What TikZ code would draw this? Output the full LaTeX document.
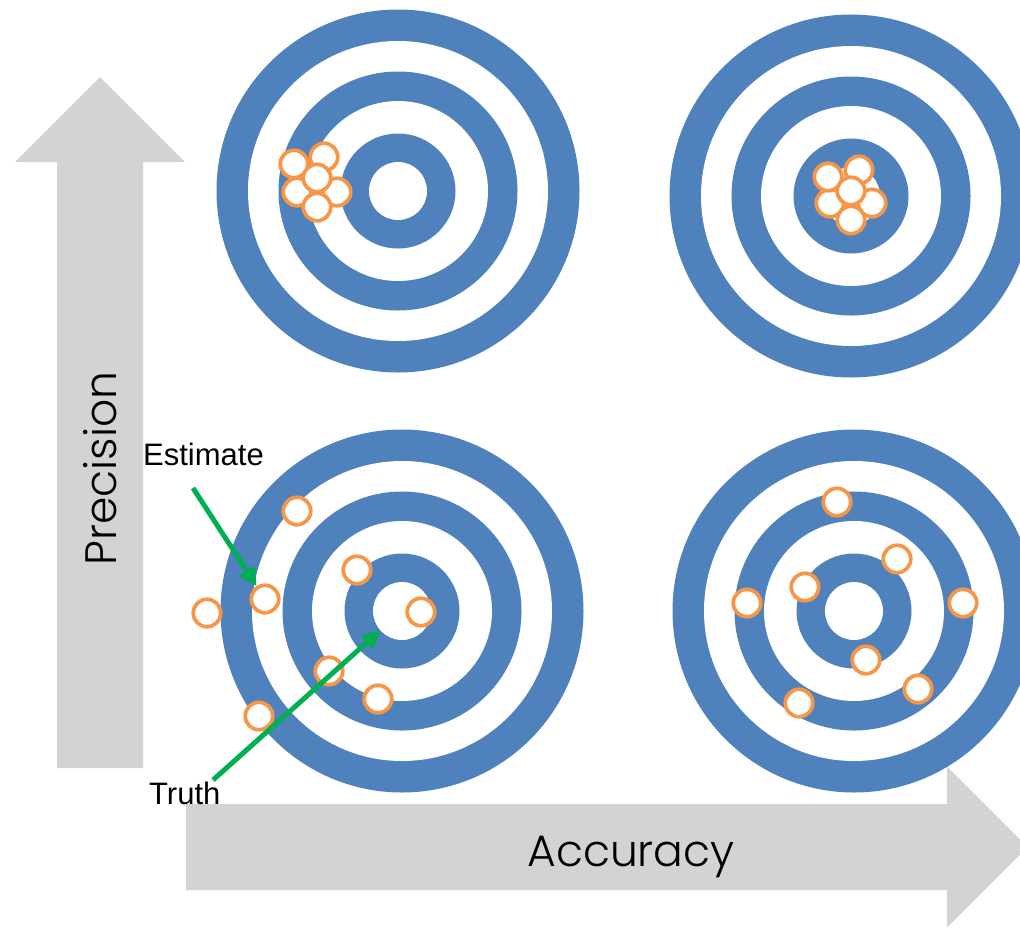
\documentclass[tikz,border=0pt]{standalone}
\usepackage{fontspec}
\setmainfont{Liberation Sans}
\IfFontExistsTF{Poppins Light}{\newfontfamily\axisfont{Poppins Light}}{\newfontfamily\axisfont{Poppins}}
\usetikzlibrary{arrows.meta}
\definecolor{ringblue}{RGB}{79,129,189}
\definecolor{shotorange}{RGB}{247,150,70}
\definecolor{hintgreen}{RGB}{0,176,80}
\definecolor{axisgray}{RGB}{211,211,211}

\begin{document}
\begin{tikzpicture}[x=1pt,y=-1pt,
  shot/.style={circle,draw=shotorange,fill=white,line width=3.7pt,minimum size=27.5pt,inner sep=0pt},
  bull/.style={circle,fill=white,minimum size=58pt,inner sep=0pt},
  hint/.style={hintgreen,line width=5pt,-{Triangle[length=18pt,width=18pt]}},
  axislabel/.style={font=\axisfont\fontsize{44}{46}\selectfont,inner sep=0pt},
  smalllabel/.style={font=\fontsize{31}{33}\selectfont,inner sep=0pt,anchor=base west}]

\clip (0,0) rectangle (1020,930);

\fill[axisgray] (57,768) -- (57,162) -- (15,162) -- (100,77) -- (185,162) -- (143,162) -- (143,768) -- cycle;
\fill[axisgray] (186,804) -- (947,804) -- (947,766.5) -- (1027.5,847) -- (947,927.5) -- (947,890) -- (186,890) -- cycle;

\node[axislabel,rotate=90,anchor=base] (prec-label) at (116,468.5) {Precision};
\node[axislabel,anchor=base] (acc-label) at (631,866) {Accuracy};

\foreach \cx/\cy/\nm in {398/191/tl,851/196/tr,402/611/bl,854/611/br}{
  \fill[ringblue] (\cx,\cy) circle (181.5pt);
  \fill[white] (\cx,\cy) circle (150pt);
  \fill[ringblue] (\cx,\cy) circle (119.5pt);
  \fill[white] (\cx,\cy) circle (90pt);
  \fill[ringblue] (\cx,\cy) circle (57.5pt);
  \node[bull] (\nm-bull) at (\cx,\cy) {};
}

\foreach \x/\y [count=\i] in {297/192,337/192,294/164,324/157,317/178,317/207}
  \node[shot] (tl\i) at (\x,\y) {};
\foreach \x/\y [count=\i] in {830/203,872/203,828/177,859/170,851/191,851/220}
  \node[shot] (tr\i) at (\x,\y) {};
\foreach \x/\y [count=\i] in {297/511,357/570,265/599,207/613,421/612,329/671,378/699,259/716}
  \node[shot] (bl\i) at (\x,\y) {};
\foreach \x/\y [count=\i] in {837/502,897/559,805/587,747/603,963/603,866/660,918/689,799/703}
  \node[shot] (br\i) at (\x,\y) {};

\node[smalllabel] (est-label) at (143,465) {Estimate};
\node[smalllabel] (truth-label) at (149,804) {Truth};
\coordinate (est-start) at (193,488);
\coordinate (truth-start) at (213,780);

\draw[hint] (est-start) -- (bl3);
\draw[hint] (truth-start) -- (bl-bull);

\end{tikzpicture}
\end{document}
